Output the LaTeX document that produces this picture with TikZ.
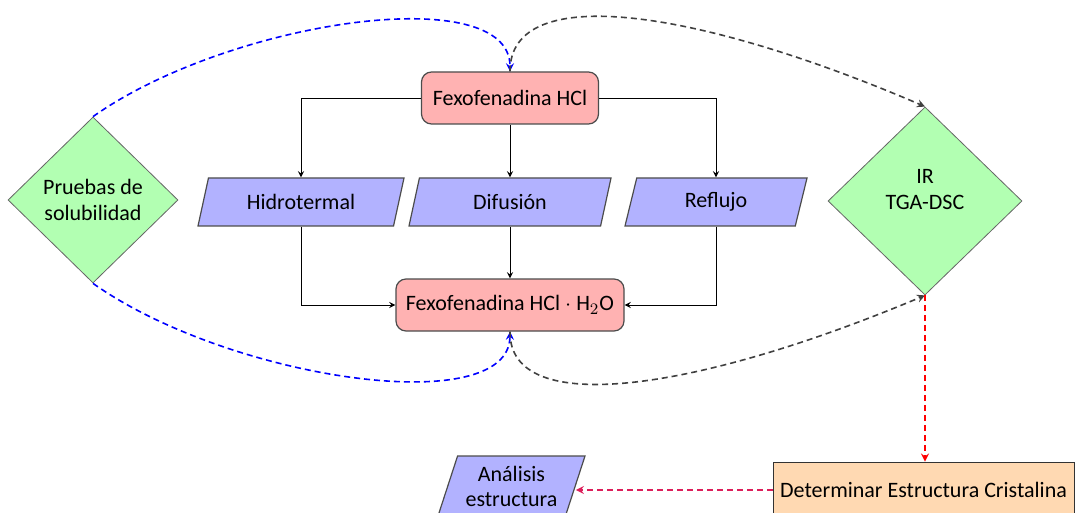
\documentclass[tikz,border=0pt]{standalone}
\usepackage{fontspec}
\setmainfont{Carlito}
\usetikzlibrary{shapes.geometric, positioning, arrows}
\definecolor{crimson}{RGB}{220,30,90}

\begin{document}
\begin{tikzpicture}[
    x=0.5pt, y=-0.5pt, >=stealth, node distance=52pt,
    font=\fontsize{11}{13}\selectfont,
    compound/.style={draw=black!70, semithick, rounded corners=5pt, fill=red!30, minimum height=26pt},
    method/.style={trapezium, trapezium left angle=70, trapezium right angle=110, trapezium stretches body,
        draw=black!70, semithick, fill=blue!30, minimum height=24pt, align=center},
    test/.style={diamond, draw=black!60, fill=green!30, align=center, inner sep=0pt},
    result/.style={draw=black!80, fill=orange!30, minimum height=28pt},
    flow/.style={->, thin},
    link/.style={->, thick, dash pattern=on 3pt off 2pt}
]
    \useasboundingbox (0,0) rectangle (1075,513);

    \node[compound, minimum width=88.5pt] (T) at (510,98) {Fexofenadina HCl};
    \node[method, below of=T, minimum width=101pt] (D) {Difusión};
    \node[method, left of=D, node distance=104.5pt, minimum width=103pt] (H) {Hidrotermal};
    \node[method, right of=D, node distance=103pt, minimum width=91pt] (R) {Reflujo};
    \node[compound, below of=D, node distance=51.5pt, minimum width=114pt] (B) {Fexofenadina HCl $\cdot$ H$_2$O};

    \node[test, minimum width=85pt, minimum height=83pt] (L) at (93,200) {Pruebas de\\solubilidad};
    \node[test, minimum width=97pt, minimum height=94pt, text depth=11.5pt] (I) at (925,201) {IR\\TGA-DSC};

    \node[result, minimum width=150.5pt] (C) at (923.5,490) {Determinar Estructura Cristalina};
    \node[method, minimum width=73.5pt, minimum height=30pt, font=\fontsize{11}{12.5}\selectfont] (A) at (511.5,486) {Análisis\\estructura};

    % sintesis
    \draw[flow] (T.west) -| (H.north);
    \draw[flow] (T.south) -- (T.south |- D.north);
    \draw[flow] (T.east) -| (R.north);
    \draw[flow] (H.south) |- (B.west);
    \draw[flow] (D.south) -- (D.south |- B.north);
    \draw[flow] (R.south) |- (B.east);

    % caracterizacion
    \draw[link, blue] (L.north) .. controls (230,20) and (510,-20) .. (T.north);
    \draw[link, black!75] (T.north) .. controls (510,-20) and (700,10) .. (I.north);
    \draw[link, blue] (L.south) .. controls (230,380) and (509,420) .. (B.south);
    \draw[link, black!75] (B.south) .. controls (509,420) and (700,390) .. (I.south);
    \draw[link, red] (I.south) -- (I.south |- C.north);
    \draw[link, crimson] (C.west) -- (C.west -| A.east);

\end{tikzpicture}
\end{document}
